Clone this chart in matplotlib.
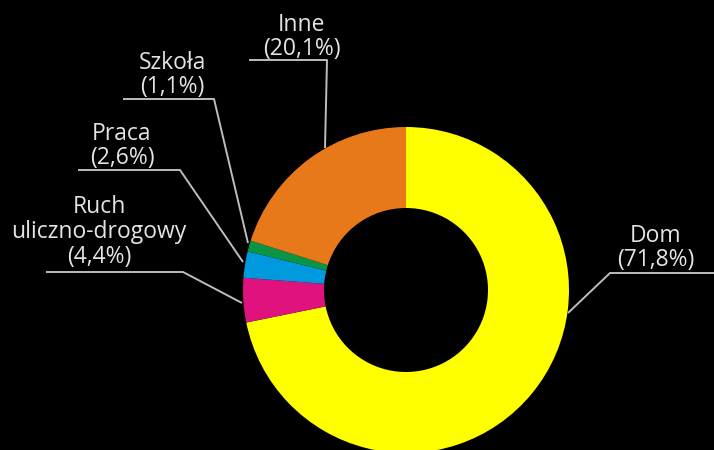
import matplotlib
matplotlib.use("Agg")
import matplotlib.pyplot as plt

# Data (share of cases, %)
labels = ["Dom", "Ruch\nuliczno-drogowy", "Praca", "Szkoła", "Inne"]
values = [71.8, 4.4, 2.6, 1.1, 20.1]
value_text = ["71,8%", "4,4%", "2,6%", "1,1%", "20,1%"]
colors = ["#FFFF00", "#E0137E", "#0099DE", "#0B9444", "#E8791A"]

W, H = 714, 450
BG = "#000000"
TXT = "#E4E4E4"
LINE = "#BDBDBD"

plt.rcParams["font.family"] = ["Open Sans", "DejaVu Sans"]

fig = plt.figure(figsize=(W / 100, H / 100), dpi=100, facecolor=BG)
ax = fig.add_axes([0, 0, 1, 1])
ax.set_facecolor(BG)

cx, cy = 406, H - 290
R = 163
ax.pie(values, colors=colors, startangle=90, counterclock=False,
       radius=R, center=(cx, cy), frame=True,
       wedgeprops=dict(width=81, linewidth=0))
ax.set_xlim(0, W)
ax.set_ylim(0, H)
ax.set_aspect("equal")
ax.axis("off")

# label layout in pixel coords (text block centre x, centre y, leader polyline)
layout = {
    "Dom": (656, 248, [(714, 273), (610, 273), (568, 313)]),
    "Ruch\nuliczno-drogowy": (99, 232, [(46, 272), (183, 272), (242, 303)]),
    "Praca": (122, 146, [(78, 170), (180, 170), (243, 262)]),
    "Szkoła": (172, 75, [(123, 99), (214, 99), (248, 243)]),
    "Inne": (302, 37, [(249, 60), (327, 60), (325, 148)]),
}

for lab, vt in zip(labels, value_text):
    tx, ty, pts = layout[lab]
    ax.text(tx, H - ty, f"{lab}\n({vt})", ha="center", va="center",
            color=TXT, fontsize=16.5, linespacing=1.05)
    ax.plot([p[0] for p in pts], [H - p[1] for p in pts],
            color=LINE, lw=1.4, solid_capstyle="butt")

fig.savefig("out.png", dpi=100, facecolor=BG)
